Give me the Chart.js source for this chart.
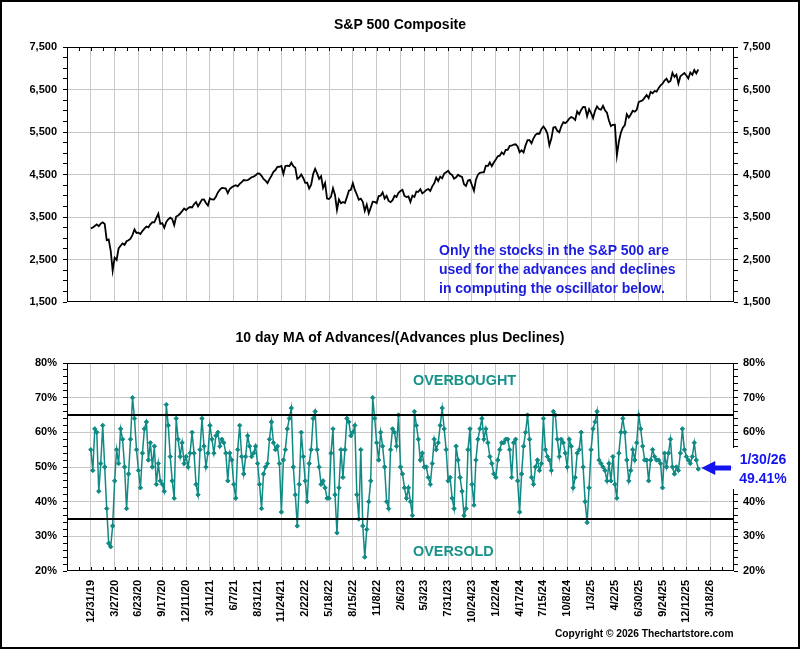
<!DOCTYPE html>
<html>
<head>
<meta charset="utf-8">
<script src="https://cdn.jsdelivr.net/npm/chart.js@4.4.1/dist/chart.umd.min.js"></script>
<style>
html,body{margin:0;padding:0;background:#fff;}
#page{position:relative;width:800px;height:649px;overflow:hidden;font-family:"Liberation Sans",Arial,sans-serif;font-weight:bold;color:#000;}
#frame{position:absolute;left:0;top:0;width:800px;height:649px;box-sizing:border-box;border:2px solid #000;pointer-events:none;z-index:5;}
canvas{position:absolute;left:0;}
.t{position:absolute;white-space:nowrap;line-height:1;}
</style>
</head>
<body>
<div id="page">
  <canvas id="c1" width="800" height="320" style="top:0px"></canvas>
  <canvas id="c2" width="800" height="329" style="top:320px"></canvas>
  <div class="t" id="title1" style="left:0;width:800px;text-align:center;top:17px;font-size:14px;">S&amp;P 500 Composite</div>
  <div class="t" style="left:439px;top:241px;font-size:14px;color:#1c1ce0;line-height:19px;">Only the stocks in the S&amp;P 500 are<br>used for the advances and declines<br>in computing the oscillator below.</div>
  <div class="t" id="title2" style="left:0;width:800px;text-align:center;top:330px;font-size:14px;">10 day MA of Advances/(Advances plus Declines)</div>
  <div class="t" style="left:413px;top:373px;font-size:14.4px;color:#17928a;">OVERBOUGHT</div>
  <div class="t" style="left:413px;top:544px;font-size:14.4px;color:#17928a;">OVERSOLD</div>
  <div class="t" id="lastLbl" style="left:733px;width:60px;text-align:center;top:450px;font-size:14px;color:#1414f0;line-height:19px;"></div>
  <div class="t" style="left:555px;top:629px;font-size:10.2px;">Copyright © 2026 Thechartstore.com</div>
  <div id="frame"></div>
</div>
<script>
// ---------------- DATA ----------------
// Date labels on the x axis, one every 60 trading days starting at 12/31/19
const tickDates = ['12/31/19','3/27/20','6/23/20','9/17/20','12/11/20','3/11/21','6/7/21','8/31/21','11/24/21','2/22/22','5/18/22','8/15/22','11/8/22','2/6/23','5/3/23','7/31/23','10/24/23','1/22/24','4/17/24','7/15/24','10/8/24','1/3/25','4/2/25','6/30/25','9/24/25','12/12/25','3/18/26'];
const TICK_SPACING = 60;   // trading days between date labels
const SAMPLE_STEP = 5;     // trading days between samples below
const lastDateLabel = '1/30/26';

// S&P 500 Composite, sampled every 5 trading days from 12/31/19
const spxValues = [
 3231,3253,3289,3326,3284,3345,3374,3337,2954,2972,2711,2237,
 2541,2489,2762,2823,2878,2842,2930,2954,2992,3081,3207,3125,
 3131,3100,3170,3227,3276,3258,3327,3380,3375,3478,3580,3339,
 3357,3246,3380,3446,3483,3453,3310,3510,3537,3582,3638,3699,
 3663,3709,3735,3726,3801,3851,3750,3830,3910,3913,3829,3768,
 3939,3913,3910,3973,4077,4141,4185,4180,4168,4063,4160,4200,
 4226,4247,4221,4280,4320,4369,4360,4367,4400,4436,4448,4480,
 4523,4520,4468,4395,4357,4300,4391,4471,4566,4605,4680,4682,
 4701,4513,4701,4709,4696,4778,4696,4659,4398,4431,4500,4418,
 4305,4306,4170,4262,4512,4632,4525,4397,4459,4183,4300,3935,
 3923,3978,4177,4017,3666,3912,3825,3854,3831,3967,4119,4140,
 4297,4138,4030,3909,3933,3856,3647,3791,3589,3720,3859,3856,
 3828,3992,4003,4080,3933,3996,3878,3849,3895,3999,3973,4071,
 4111,4137,3997,3970,3986,3855,4002,3971,4100,4092,4154,4056,
 4090,4137,4158,4115,4222,4293,4425,4348,4450,4410,4522,4554,
 4589,4518,4489,4400,4433,4496,4461,4444,4273,4229,4358,4373,
 4247,4117,4378,4495,4538,4550,4549,4707,4699,4783,4697,4783,
 4850,4927,4942,5021,4975,5078,5079,5175,5178,5204,5211,5160,
 5022,5071,5018,5187,5308,5307,5235,5352,5433,5464,5460,5572,
 5631,5564,5463,5186,5344,5608,5616,5528,5495,5634,5732,5709,
 5751,5815,5851,5832,5782,5983,5917,6021,6087,6084,5872,6037,
 5942,5827,5997,6101,6041,6026,6115,6013,5955,5770,5639,5668,
 5671,4950,5276,5484,5604,5663,5917,5842,5912,6000,5977,6025,
 6205,6226,6244,6309,6371,6299,6445,6411,6465,6448,6532,6600,
 6637,6711,6753,6671,6699,6890,6796,6850,6642,6812,6850,6886,
 6830,6760,6900,6845,6960,6880,6970
];

// 10 day MA of Advances/(Advances plus Declines), %, same sampling
const oscValues = [
 55,49,61,60,43,51,62,50,38,28,27,33,
 46,55,51,61,58,50,38,48,58,70,64,55,
 49,44,54,61,63,52,57,50,56,45,51,46,
 45,43,68,62,53,46,41,64,58,53,57,51,
 53,50,54,60,54,45,42,55,64,56,50,54,
 62,58,54,59,60,56,58,57,54,46,54,52,
 45,41,55,62,53,48,53,59,56,53,54,56,
 51,45,38,48,50,51,58,63,57,55,56,51,
 37,52,55,61,64,67,50,42,33,45,60,53,
 46,40,51,55,64,66,55,50,45,46,44,41,
 41,54,61,42,31,44,55,47,55,64,63,59,
 60,62,42,35,55,33,24,32,40,46,70,64,
 57,52,60,56,50,40,38,55,61,60,56,65,
 50,48,44,41,44,40,36,66,62,58,52,54,
 50,50,47,45,51,58,55,57,62,67,61,55,
 46,47,41,38,56,52,47,43,36,38,55,61,
 45,39,52,58,61,64,58,61,57,53,51,48,
 47,52,55,57,57,58,58,55,47,57,58,46,
 37,48,56,60,65,58,47,45,50,52,49,51,
 64,55,53,52,49,66,65,58,53,58,57,54,
 50,58,56,44,47,54,55,60,50,40,34,44,
 55,61,63,66,52,51,50,49,46,51,46,53,
 45,41,54,60,64,60,52,46,49,55,52,57,
 65,61,56,52,52,46,52,55,53,52,52,51,
 44,54,50,54,58,50,48,50,49,54,61,55,
 53,52,51,53,57,52,49.41
];

const OVERBOUGHT_LEVEL = 65;
const OVERSOLD_LEVEL = 35;
const spxTickLabels = [1500,2500,3500,4500,5500,6500,7500];
const oscTickLabels = [20,30,40,50,60,70,80];

// ---------------- CHARTS ----------------
const FONT = '"Liberation Sans", Arial, sans-serif';
Chart.defaults.font.family = FONT;
Chart.defaults.font.weight = 'bold';
Chart.defaults.font.size = 11;
Chart.defaults.color = '#000';

const X_MIN = -TICK_SPACING;
const X_MAX = TICK_SPACING * tickDates.length;
const MINOR = TICK_SPACING / 2;
const GRID = '#c8c8c8';
const CLEAR = 'rgba(0,0,0,0)';

const spxPoints = spxValues.map((v, i) => ({x: i * SAMPLE_STEP, y: v}));
const oscPoints = oscValues.map((v, i) => ({x: i * SAMPLE_STEP, y: v}));

const framePlugin = {
  id: 'frame',
  afterDatasetsDraw(chart, args, opts) {
    const {ctx, chartArea: a, scales} = chart;
    ctx.save();
    if (opts.levels) {
      ctx.strokeStyle = '#000';
      ctx.lineWidth = 2;
      opts.levels.forEach(v => {
        const y = Math.round(scales.y.getPixelForValue(v));
        ctx.beginPath(); ctx.moveTo(a.left, y); ctx.lineTo(a.right, y); ctx.stroke();
      });
    }
    ctx.strokeStyle = '#000';
    ctx.lineWidth = 1;
    ctx.strokeRect(Math.round(a.left) + 0.5, Math.round(a.top) + 0.5,
                   Math.round(a.right - a.left) - 1, Math.round(a.bottom - a.top) - 1);
    ctx.beginPath();
    for (let v = X_MIN + MINOR; v < X_MAX; v += MINOR) {
      const x = Math.round(scales.x.getPixelForValue(v)) + 0.5;
      if (opts.edge === 'top') { ctx.moveTo(x, a.top); ctx.lineTo(x, a.top + 4); }
      else { ctx.moveTo(x, a.bottom); ctx.lineTo(x, a.bottom - 4); }
    }
    ctx.stroke();
    ctx.restore();
  }
};

const lastPlugin = {
  id: 'lastMark',
  afterDraw(chart) {
    const {ctx, chartArea: a, scales} = chart;
    const n = oscValues.length - 1;
    const y = Math.round(scales.y.getPixelForValue(oscValues[n])) - 1;
    const tip = scales.x.getPixelForValue(n * SAMPLE_STEP) + 3;
    const tail = a.right - 3;
    ctx.save();
    ctx.fillStyle = '#fff';
    ctx.fillRect(a.right - 1, y - 20, 70, 41);
    ctx.fillStyle = '#1414f0';
    ctx.beginPath();
    ctx.moveTo(tip, y);
    ctx.lineTo(tip + 14, y - 7);
    ctx.lineTo(tip + 14, y - 2.5);
    ctx.lineTo(tail, y - 2.5);
    ctx.lineTo(tail, y + 2.5);
    ctx.lineTo(tip + 14, y + 2.5);
    ctx.lineTo(tip + 14, y + 7);
    ctx.closePath();
    ctx.fill();
    ctx.restore();
  }
};

function yAxis(pos, min, max, step, isMajor, fmt, width, pad) {
  return {
    type: 'linear', position: pos, min: min, max: max,
    afterFit(s) { s.width = width; },
    border: {display: false},
    grid: {
      drawOnChartArea: pos === 'left',
      color: c => (isMajor(c.tick.value) && c.tick.value > min && c.tick.value < max) ? GRID : CLEAR,
      tickColor: '#000', tickLength: 4, drawTicks: true, lineWidth: 1
    },
    ticks: {
      stepSize: step, autoSkip: false, padding: pad,
      callback: v => isMajor(v) ? fmt(v) : ''
    }
  };
}

const xGridColor = c => (c.tick.value > X_MIN && c.tick.value < X_MAX) ? GRID : CLEAR;

// top chart
new Chart(document.getElementById('c1'), {
  type: 'line',
  data: {datasets: [{
    data: spxPoints, borderColor: '#000', borderWidth: 1.8, pointRadius: 0,
    tension: 0, yAxisID: 'y'
  }]},
  options: {
    responsive: false, animation: false, events: [],
    layout: {padding: {top: 47, left: 0, right: 0, bottom: 0}},
    plugins: {legend: {display: false}, tooltip: {enabled: false}, frame: {edge: 'top'}},
    scales: {
      x: {
        type: 'linear', min: X_MIN, max: X_MAX,
        afterFit(s) { s.height = 18; },
        border: {display: false},
        grid: {color: xGridColor, drawTicks: false},
        ticks: {display: false, stepSize: TICK_SPACING}
      },
      y: yAxis('left', spxTickLabels[0], spxTickLabels[spxTickLabels.length - 1], 250,
               v => spxTickLabels.includes(v), v => v.toLocaleString('en-US'), 67, 6),
      y2: yAxis('right', spxTickLabels[0], spxTickLabels[spxTickLabels.length - 1], 250,
               v => spxTickLabels.includes(v), v => v.toLocaleString('en-US'), 66, 5)
    }
  },
  plugins: [framePlugin]
});

// bottom chart
new Chart(document.getElementById('c2'), {
  type: 'line',
  data: {datasets: [{
    data: oscPoints, borderColor: '#0f8a84', backgroundColor: '#0f8a84',
    borderWidth: 1.5, pointRadius: 2.2, pointStyle: 'rectRot', pointBorderWidth: 1,
    tension: 0, yAxisID: 'y'
  }]},
  options: {
    responsive: false, animation: false, events: [],
    layout: {padding: {top: 43, left: 0, right: 0, bottom: 0}},
    plugins: {legend: {display: false}, tooltip: {enabled: false},
              frame: {edge: 'bottom', levels: [OVERBOUGHT_LEVEL, OVERSOLD_LEVEL]}},
    scales: {
      x: {
        type: 'linear', min: X_MIN, max: X_MAX,
        afterFit(s) { s.height = 78; },
        border: {display: false},
        grid: {color: xGridColor, drawTicks: false},
        ticks: {
          stepSize: TICK_SPACING, autoSkip: false, minRotation: 90, maxRotation: 90, padding: 9,
          callback: v => { const k = Math.round(v / TICK_SPACING); return (v >= 0 && k < tickDates.length) ? tickDates[k] : ''; }
        }
      },
      y: yAxis('left', oscTickLabels[0], oscTickLabels[oscTickLabels.length - 1], 2,
               v => oscTickLabels.includes(v), v => v + '%', 67, 6),
      y2: yAxis('right', oscTickLabels[0], oscTickLabels[oscTickLabels.length - 1], 2,
               v => oscTickLabels.includes(v), v => v + '%', 66, 5)
    }
  },
  plugins: [framePlugin, lastPlugin]
});

document.getElementById('lastLbl').innerHTML =
  lastDateLabel + '<br>' + oscValues[oscValues.length - 1].toFixed(2) + '%';
</script>
</body>
</html>
